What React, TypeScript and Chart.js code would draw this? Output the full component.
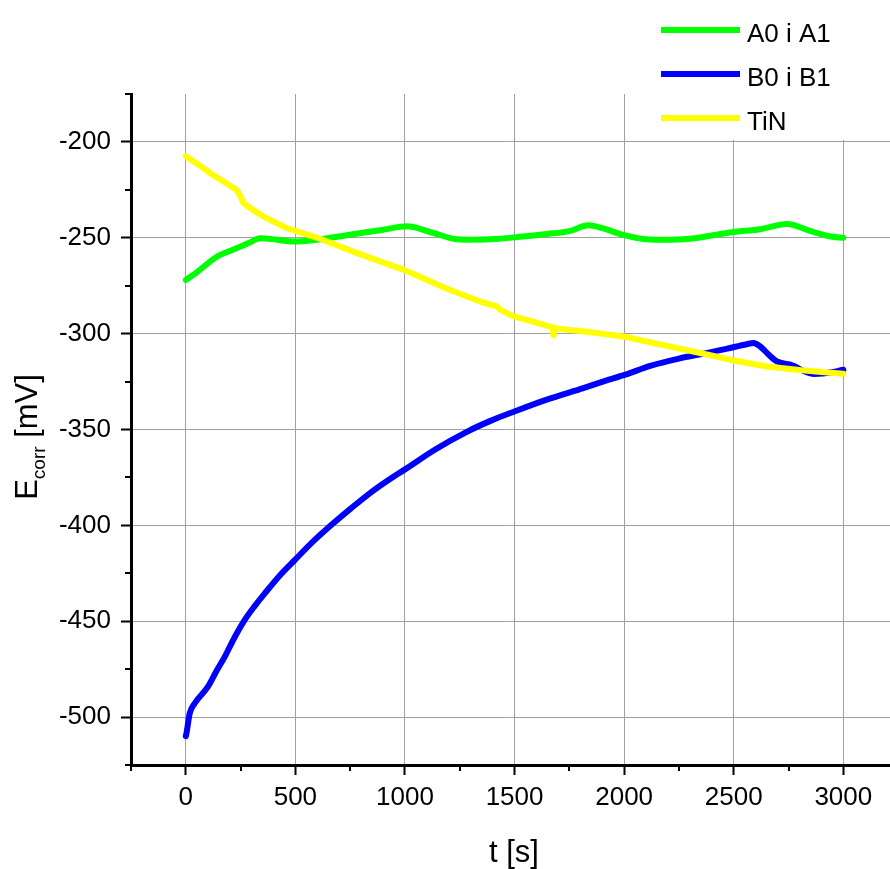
import React, { useEffect, useRef } from "react";
import { Chart, registerables } from "chart.js";

Chart.register(...registerables);

// ---- data ----
const greenT = [0, 50, 140, 220, 292, 338, 414, 490, 597, 749, 901, 1008, 1130, 1236, 1300, 1419, 1525, 1650, 1750, 1837, 1900, 1996, 2080, 2164, 2300, 2498, 2620, 2743, 2850, 2950, 3000];
const greenV = [-272, -268, -260, -256, -252.5, -250.2, -251, -252, -251, -248.4, -245.8, -244, -247.5, -250.8, -251, -250.6, -249.5, -248, -246.5, -243.5, -245, -248.5, -250.5, -251, -250.5, -247, -245.5, -242.8, -246.5, -249.5, -250];

const blueT = [0, 3, 18, 41, 102, 140, 178, 220, 269, 315, 361, 430, 498, 580, 665, 755, 848, 925, 1000, 1140, 1282, 1390, 1502, 1650, 1814, 1910, 2005, 2119, 2250, 2378, 2470, 2560, 2590, 2621, 2660, 2697, 2758, 2865, 2956, 3000];
const blueV = [-510, -508.5, -498, -492.8, -484, -476, -468.5, -459, -449.3, -442, -435.4, -426, -418, -408.5, -399.7, -391, -382.5, -376.3, -370.8, -360.3, -351.2, -345.5, -340.5, -334.3, -328.4, -324.8, -321.4, -316.8, -313, -310.1, -307.8, -305.5, -304.9, -306.7, -311, -314.5, -316.2, -321, -320, -318.8];

const yellowT = [0, 60, 110, 170, 231, 250, 262, 300, 353, 460, 600, 800, 992, 1200, 1350, 1419, 1434, 1480, 1525, 1600, 1675, 1677, 1679, 1740, 1813, 1996, 2200, 2347, 2500, 2651, 2800, 2900, 3000];
const yellowV = [-207.5, -212, -216.2, -220.5, -224.9, -228.5, -231.8, -235, -238.8, -244.9, -250, -258.8, -266.6, -277, -283.5, -285.8, -287.5, -290.2, -291.9, -294.3, -296.8, -300.8, -297, -298, -298.8, -301.5, -306.5, -310.1, -314, -317.1, -319, -320, -320.9];

const seriesNames = ["A0 i A1", "B0 i B1", "TiN"];
const seriesColors = ["#00ff00", "#0000ff", "#ffff00"];

const xMajorTicks = [0, 500, 1000, 1500, 2000, 2500, 3000];
const xMinorTicks = [-250, 250, 750, 1250, 1750, 2250, 2750];
const yMajorTicks = [-500, -450, -400, -350, -300, -250, -200];
const yMinorTicks = [-525, -475, -425, -375, -325, -275, -225, -175];

const FONT = "'Liberation Sans', Arial, sans-serif";

function pairs(t: number[], v: number[]) {
  return t.map((x, i) => ({ x, y: v[i] }));
}

const decorPlugin = {
  id: "decor",
  afterDraw(chart: any) {
    const ctx = chart.ctx;
    const area = chart.chartArea;
    const xs = chart.scales.x;
    const ys = chart.scales.y;
    ctx.save();
    // minor ticks
    ctx.strokeStyle = "#000";
    ctx.lineWidth = 2;
    ctx.beginPath();
    xMinorTicks.forEach((v) => {
      const px = Math.round(xs.getPixelForValue(v));
      ctx.moveTo(px, area.bottom);
      ctx.lineTo(px, area.bottom + 6);
    });
    yMinorTicks.forEach((v) => {
      const py = Math.round(ys.getPixelForValue(v));
      ctx.moveTo(area.left - 6, py);
      ctx.lineTo(area.left, py);
    });
    ctx.stroke();

    // legend (white background)
    ctx.fillStyle = "#fff";
    ctx.fillRect(630, 0, 260, 140);
    const lineYs = [30, 74, 118];
    seriesNames.forEach((name, i) => {
      ctx.strokeStyle = seriesColors[i];
      ctx.lineWidth = 6;
      ctx.lineCap = "butt";
      ctx.beginPath();
      ctx.moveTo(661, lineYs[i]);
      ctx.lineTo(740, lineYs[i]);
      ctx.stroke();
      ctx.fillStyle = "#000";
      ctx.font = `26px ${FONT}`;
      ctx.textAlign = "left";
      ctx.textBaseline = "alphabetic";
      ctx.fillText(name, 747, lineYs[i] + 12);
    });

    // x title
    ctx.fillStyle = "#000";
    ctx.font = `31px ${FONT}`;
    ctx.textAlign = "center";
    ctx.textBaseline = "alphabetic";
    ctx.fillText("t [s]", 514, 862);

    // y title with subscript
    const big = `31px ${FONT}`;
    const small = `19px ${FONT}`;
    ctx.font = big;
    const wE = ctx.measureText("E").width;
    const wRest = ctx.measureText(" [mV]").width;
    ctx.font = small;
    const wSub = ctx.measureText("corr").width;
    const total = wE + wSub + wRest;
    const cy = 437;
    ctx.translate(37, cy + total / 2);
    ctx.rotate(-Math.PI / 2);
    ctx.textAlign = "left";
    ctx.font = big;
    ctx.fillText("E", 0, 0);
    ctx.font = small;
    ctx.fillText("corr", wE, 8);
    ctx.font = big;
    ctx.fillText(" [mV]", wE + wSub, 0);
    ctx.restore();
  },
};

export default function App() {
  const ref = useRef<HTMLCanvasElement | null>(null);
  useEffect(() => {
    if (!ref.current) return;
    const common = {
      borderWidth: 6,
      pointRadius: 0,
      fill: false,
      borderCapStyle: "round" as const,
      borderJoinStyle: "round" as const,
    };
    const chart = new Chart(ref.current, {
      type: "line",
      data: {
        datasets: [
          { ...common, label: seriesNames[0], data: pairs(greenT, greenV), borderColor: seriesColors[0], order: 2, cubicInterpolationMode: "monotone" },
          { ...common, label: seriesNames[1], data: pairs(blueT, blueV), borderColor: seriesColors[1], order: 1, cubicInterpolationMode: "monotone" },
          { ...common, label: seriesNames[2], data: pairs(yellowT, yellowV), borderColor: seriesColors[2], order: 0, tension: 0 },
        ],
      },
      options: {
        animation: false,
        responsive: false,
        devicePixelRatio: 1,
        layout: { padding: { top: 94, right: 0, left: 0, bottom: 0 } },
        plugins: { legend: { display: false }, tooltip: { enabled: false } },
        scales: {
          x: {
            type: "linear",
            min: -250,
            max: 3213,
            afterBuildTicks: (s: any) => {
              s.ticks = xMajorTicks.map((v) => ({ value: v }));
            },
            afterFit: (s: any) => {
              s.height = 104;
            },
            grid: { color: "#a0a0a0", lineWidth: 1, tickColor: "#000", tickWidth: 2, tickLength: 10 },
            border: { display: true, color: "#000", width: 3 },
            ticks: {
              color: "#000",
              font: { family: FONT, size: 26 },
              padding: 7,
              maxRotation: 0,
              autoSkip: false,
              callback: (v: any) => String(v),
            },
          },
          y: {
            type: "linear",
            min: -525,
            max: -175,
            afterBuildTicks: (s: any) => {
              s.ticks = yMajorTicks.map((v) => ({ value: v }));
            },
            afterFit: (s: any) => {
              s.width = 131;
            },
            grid: { color: "#a0a0a0", lineWidth: 1, tickColor: "#000", tickWidth: 2, tickLength: 10 },
            border: { display: true, color: "#000", width: 3 },
            ticks: {
              color: "#000",
              font: { family: FONT, size: 26 },
              padding: 10,
              autoSkip: false,
              callback: (v: any) => String(v),
            },
          },
        },
      },
      plugins: [decorPlugin],
    } as any);
    return () => chart.destroy();
  }, []);
  return (
    <div style={{ position: "fixed", left: 0, top: 0, width: 890, height: 869, background: "#fff" }}>
      <canvas ref={ref} width={890} height={869} style={{ display: "block" }} />
    </div>
  );
}
